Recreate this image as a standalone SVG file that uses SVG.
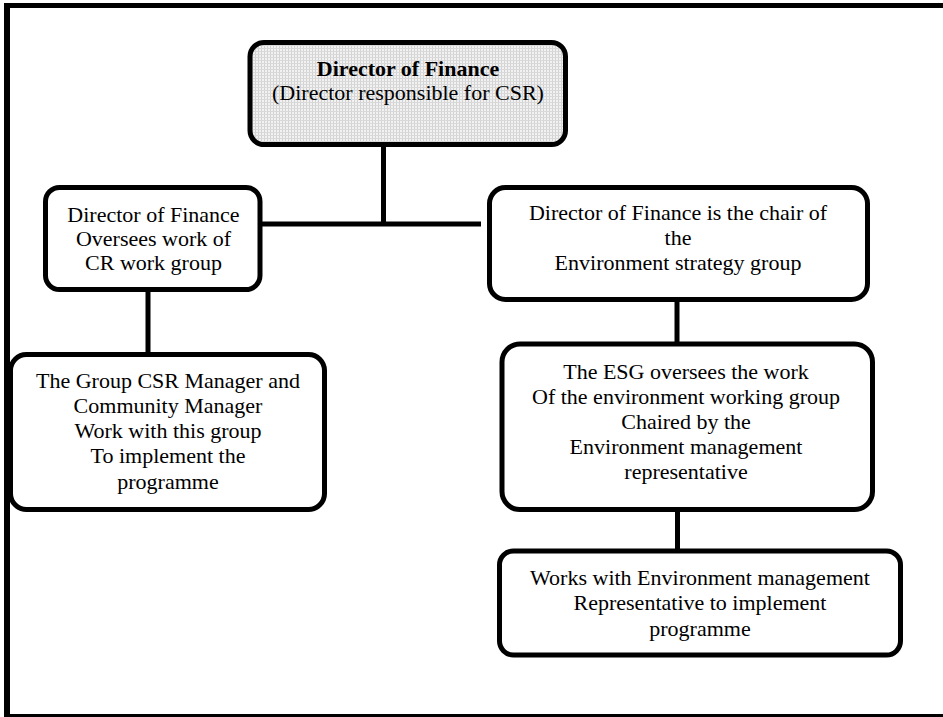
<svg xmlns="http://www.w3.org/2000/svg" width="943" height="717" viewBox="0 0 943 717">
<style>
.box{fill:#fff;stroke:#000;stroke-width:5}
.top{fill:url(#dots);stroke:#000;stroke-width:5}
.conn{stroke:#000;stroke-width:5;fill:none}
.frame{stroke:#000;fill:none}
text{font-family:"Liberation Serif","Times New Roman",serif;font-size:22px;fill:#000;text-anchor:middle}
.b{font-weight:bold}
</style>
<defs>
<pattern id="dots" width="3" height="3" patternUnits="userSpaceOnUse">
<rect width="3" height="3" fill="#f2f2f2"/>
<rect width="1" height="3" fill="#d2d2d2"/>
<rect width="3" height="1" fill="#d9d9d9"/>
</pattern>
</defs>
<rect width="943" height="717" fill="#fff"/>
<g id="frame">
<line class="frame" x1="4" y1="5.5" x2="943" y2="5.5" stroke-width="5"/>
<line class="frame" x1="7" y1="3" x2="7" y2="717" stroke-width="6"/>
<line class="frame" x1="4" y1="715.5" x2="943" y2="715.5" stroke-width="3"/>
</g>
<g id="connectors">
<line class="conn" x1="383.5" y1="145" x2="383.5" y2="224"/>
<line class="conn" x1="245" y1="224" x2="481" y2="224"/>
<line class="conn" x1="148" y1="290" x2="148" y2="354"/>
<line class="conn" x1="677" y1="300" x2="677" y2="344"/>
<line class="conn" x1="677.5" y1="510" x2="677.5" y2="551"/>
</g>
<g id="n-top">
<rect class="top" x="250" y="42.5" width="315.5" height="102" rx="14"/>
<text x="408" y="76" class="b">Director of Finance</text>
<text x="408" y="100">(Director responsible for CSR)</text>
</g>
<g id="n-left1">
<rect class="box" x="45.5" y="187.5" width="214.5" height="102" rx="14"/>
<text x="153.5" y="222">Director of Finance</text>
<text x="153.5" y="246">Oversees work of</text>
<text x="153.5" y="270">CR work group</text>
</g>
<g id="n-left2">
<rect class="box" x="10.5" y="354.5" width="314" height="155" rx="16"/>
<text x="168" y="388">The Group CSR Manager and</text>
<text x="168" y="413">Community Manager</text>
<text x="168" y="438">Work with this group</text>
<text x="168" y="463">To implement the</text>
<text x="168" y="489">programme</text>
</g>
<g id="n-right1">
<rect class="box" x="489.5" y="187.5" width="378" height="112" rx="16"/>
<text x="678" y="220">Director of Finance is the chair of</text>
<text x="678" y="245">the</text>
<text x="678" y="270">Environment strategy group</text>
</g>
<g id="n-right2">
<rect class="box" x="502" y="344" width="370.5" height="165.5" rx="18"/>
<text x="686" y="379">The ESG oversees the work</text>
<text x="686" y="404">Of the environment working group</text>
<text x="686" y="429">Chaired by the</text>
<text x="686" y="454">Environment management</text>
<text x="686" y="479">representative</text>
</g>
<g id="n-right3">
<rect class="box" x="499.5" y="551" width="401" height="104" rx="14"/>
<text x="700" y="585">Works with Environment management</text>
<text x="700" y="610">Representative to implement</text>
<text x="700" y="636">programme</text>
</g>
</svg>
